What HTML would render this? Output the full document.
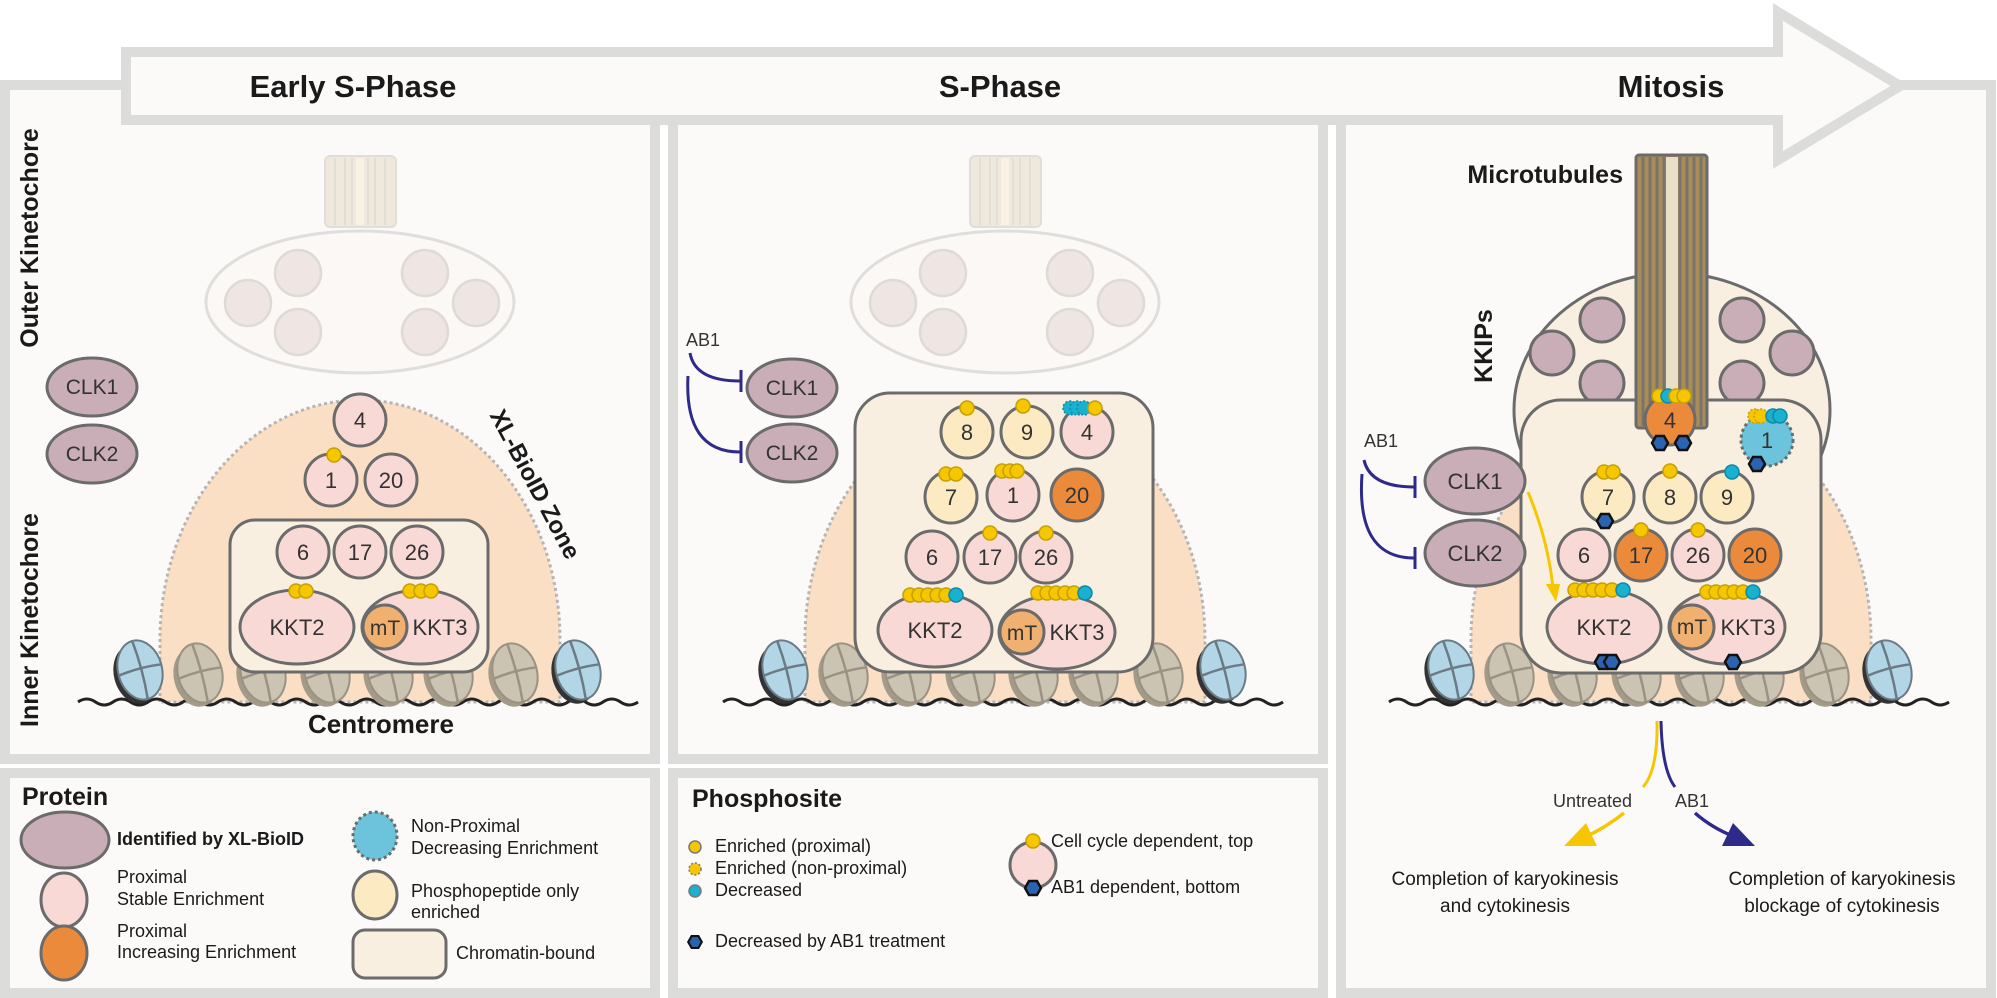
<!DOCTYPE html>
<html><head><meta charset="utf-8"><style>html,body{margin:0;padding:0;background:#fff}svg{display:block}text{font-family:"Liberation Sans",sans-serif}</style></head><body>
<svg width="1997" height="998" viewBox="0 0 1997 998" xmlns="http://www.w3.org/2000/svg">
<defs>
<g id="nuc"><g transform="rotate(-15)"><ellipse cx="-5" cy="3" rx="22" ry="30" fill="#a39a88"/><ellipse cx="0" cy="0" rx="22" ry="30" fill="#cbc4b2" stroke="#9b9283" stroke-width="2"/><path d="M0,-30 Q3,0 0,30 M-22,0 Q0,-3 22,0" stroke="#9b9283" stroke-width="2.5" fill="none"/></g></g>
<g id="nucb"><g transform="rotate(-15)"><ellipse cx="-5" cy="3" rx="22" ry="30" fill="#333"/><ellipse cx="0" cy="0" rx="22" ry="30" fill="#b3d6e6" stroke="#6b7b85" stroke-width="2"/><path d="M0,-30 Q3,0 0,30 M-22,0 Q0,-3 22,0" stroke="#6b7b85" stroke-width="2.5" fill="none"/></g></g>
<polygon id="hex" points="8,0 4,7 -4,7 -8,0 -4,-7 4,-7" fill="#2a64b0" stroke="#111" stroke-width="2.5"/>
<circle id="yd" r="7" fill="#f6c700" stroke="#c6a000" stroke-width="1.5"/>
<circle id="cd" r="7" fill="#1ab0d0" stroke="#0d8aa6" stroke-width="1.5"/>
<g id="faded"><rect x="325" y="156" width="71" height="71" rx="5" fill="#efe8dc" stroke="#e2ddd5" stroke-width="2"/><path d="M335,158V225M345,158V225M352,158V225M368,158V225M375,158V225M385,158V225" stroke="#e2ddd5" stroke-width="2"/><rect x="356" y="158" width="8" height="67" fill="#f8f1e4"/>
<ellipse cx="360" cy="302" rx="154" ry="71" fill="#fbf8f6" stroke="#e0dedb" stroke-width="3"/>
<g fill="#efe5e3" stroke="#dedad6" stroke-width="2.5"><circle cx="298" cy="273" r="23"/><circle cx="425" cy="273" r="23"/><circle cx="248" cy="303" r="23"/><circle cx="476" cy="303" r="23"/><circle cx="298" cy="332" r="23"/><circle cx="425" cy="332" r="23"/></g></g>
<g id="dome"><path d="M160,702 L160,640 A200,240 0 0 1 560,640 L560,702 Z" fill="#fbdfc4" stroke="#b5b5b5" stroke-width="3" stroke-dasharray="3,3"/></g>
<g id="chrom"><path d="M78,702 q8.75,-6 17.5,0 t17.5,0 t17.5,0 t17.5,0 t17.5,0 t17.5,0 t17.5,0 t17.5,0 t17.5,0 t17.5,0 t17.5,0 t17.5,0 t17.5,0 t17.5,0 t17.5,0 t17.5,0 t17.5,0 t17.5,0 t17.5,0 t17.5,0 t17.5,0 t17.5,0 t17.5,0 t17.5,0 t17.5,0 t17.5,0 t17.5,0 t17.5,0 t17.5,0 t17.5,0 t17.5,0 t17.5,0" stroke="#222" stroke-width="3" fill="none"/>
<use href="#nucb" x="140" y="670"/><use href="#nucb" x="578" y="670"/>
<use href="#nuc" x="200" y="673"/><use href="#nuc" x="263" y="673"/><use href="#nuc" x="327" y="673"/><use href="#nuc" x="390" y="673"/><use href="#nuc" x="450" y="673"/><use href="#nuc" x="515" y="673"/></g>
</defs>

<!-- panels -->
<g fill="#fcfaf9" stroke="#dcdcda" stroke-width="10">
<rect x="5" y="85" width="650" height="674"/>
<rect x="673" y="120" width="650" height="639"/>
<rect x="1341" y="85" width="650" height="908"/>
<rect x="5" y="773" width="650" height="220"/>
<rect x="673" y="773" width="650" height="220"/>
</g>
<polygon points="126,52 1778,52 1778,12 1900,86 1778,160 1778,120 126,120" fill="#fcfaf9" stroke="#dcdcda" stroke-width="10" stroke-linejoin="miter"/>
<g font-weight="bold" font-size="31" fill="#1a1a1a" text-anchor="middle">
<text x="353" y="97">Early S-Phase</text><text x="1000" y="97">S-Phase</text><text x="1671" y="97">Mitosis</text></g>

<!-- LEFT PANEL -->
<use href="#faded"/>
<use href="#dome"/>
<use href="#chrom"/>
<text transform="translate(38,238) rotate(-90)" text-anchor="middle" font-size="25" font-weight="bold" fill="#1a1a1a">Outer Kinetochore</text>
<text transform="translate(38,620) rotate(-90)" text-anchor="middle" font-size="25" font-weight="bold" fill="#1a1a1a">Inner Kinetochore</text>
<text transform="translate(528,488) rotate(62)" text-anchor="middle" font-size="24" font-weight="bold" fill="#1a1a1a">XL-BioID Zone</text>
<g stroke="#6b6b6b" stroke-width="3">
<ellipse cx="92" cy="387" rx="45" ry="29" fill="#c9aeb8"/><ellipse cx="92" cy="454" rx="45" ry="29" fill="#c9aeb8"/>
<rect x="230" y="520" width="258" height="152" rx="25" fill="#f8efe0"/>
<g fill="#f9d9d5"><circle cx="360" cy="420" r="26"/><circle cx="331" cy="480" r="26"/><circle cx="391" cy="480" r="26"/>
<circle cx="303" cy="552" r="26"/><circle cx="360" cy="552" r="26"/><circle cx="417" cy="552" r="26"/>
<ellipse cx="297" cy="627" rx="57" ry="37"/><ellipse cx="420" cy="627" rx="58" ry="37"/></g>
<circle cx="385" cy="627" r="22" fill="#f0b070"/></g>
<use href="#yd" x="334" y="455"/><use href="#yd" x="296" y="591"/><use href="#yd" x="306" y="591"/><use href="#yd" x="410" y="591"/><use href="#yd" x="421" y="591"/><use href="#yd" x="431" y="591"/>
<g font-size="21" fill="#333" text-anchor="middle">
<text x="92" y="394">CLK1</text><text x="92" y="461">CLK2</text>
<text x="360" y="428" font-size="22">4</text><text x="331" y="488" font-size="22">1</text><text x="391" y="488" font-size="22">20</text>
<text x="303" y="560" font-size="22">6</text><text x="360" y="560" font-size="22">17</text><text x="417" y="560" font-size="22">26</text>
<text x="297" y="635" font-size="22">KKT2</text><text x="385" y="635">mT</text><text x="440" y="635" font-size="22">KKT3</text></g>
<text x="381" y="733" text-anchor="middle" font-size="26" font-weight="bold" fill="#1a1a1a">Centromere</text>

<!-- MIDDLE PANEL -->
<g transform="translate(645,0)"><use href="#faded"/><use href="#dome"/><use href="#chrom"/></g>
<g stroke="#6b6b6b" stroke-width="3">
<ellipse cx="792" cy="388" rx="45" ry="29" fill="#c9aeb8"/><ellipse cx="792" cy="453" rx="45" ry="29" fill="#c9aeb8"/>
<rect x="855" y="393" width="298" height="279" rx="35" fill="#f8efe0"/>
<g fill="#fbeac2"><circle cx="967" cy="432" r="26"/><circle cx="1027" cy="432" r="26"/><circle cx="951" cy="497" r="26"/></g>
<g fill="#f9d9d5"><circle cx="1087" cy="432" r="26"/><circle cx="1013" cy="495" r="26"/>
<circle cx="932" cy="557" r="26"/><circle cx="990" cy="557" r="26"/><circle cx="1046" cy="557" r="26"/>
<ellipse cx="935" cy="630" rx="57" ry="37"/><ellipse cx="1057" cy="632" rx="58" ry="37"/></g>
<circle cx="1077" cy="495" r="26" fill="#ec8a3c"/>
<circle cx="1022" cy="632" r="22" fill="#f0b070"/></g>
<use href="#yd" x="967" y="408"/><use href="#yd" x="1023" y="406"/>
<g stroke-dasharray="2,2"><use href="#cd" x="1070" y="408"/><use href="#cd" x="1077" y="408"/><use href="#cd" x="1084" y="408"/></g><use href="#yd" x="1095" y="408"/>
<use href="#yd" x="946" y="474"/><use href="#yd" x="956" y="474"/>
<use href="#yd" x="1002" y="471"/><use href="#yd" x="1010" y="471"/><use href="#yd" x="1017" y="471"/>
<use href="#yd" x="990" y="533"/><use href="#yd" x="1046" y="533"/>
<use href="#yd" x="910" y="595"/><use href="#yd" x="919" y="595"/><use href="#yd" x="928" y="595"/><use href="#yd" x="937" y="595"/><use href="#yd" x="946" y="595"/><use href="#cd" x="956" y="595"/>
<use href="#yd" x="1038" y="593"/><use href="#yd" x="1047" y="593"/><use href="#yd" x="1056" y="593"/><use href="#yd" x="1065" y="593"/><use href="#yd" x="1074" y="593"/><use href="#cd" x="1085" y="593"/>
<g font-size="21" fill="#333" text-anchor="middle">
<text x="792" y="395">CLK1</text><text x="792" y="460">CLK2</text>
<text x="967" y="440" font-size="22">8</text><text x="1027" y="440" font-size="22">9</text><text x="1087" y="440" font-size="22">4</text>
<text x="951" y="505" font-size="22">7</text><text x="1013" y="503" font-size="22">1</text><text x="1077" y="503" font-size="22">20</text>
<text x="932" y="565" font-size="22">6</text><text x="990" y="565" font-size="22">17</text><text x="1046" y="565" font-size="22">26</text>
<text x="935" y="638" font-size="22">KKT2</text><text x="1022" y="640">mT</text><text x="1077" y="640" font-size="22">KKT3</text></g>
<text x="686" y="346" font-size="18" fill="#333">AB1</text>
<g stroke="#2e2a8a" stroke-width="3" fill="none">
<path d="M690,353 Q695,381 740,381"/><path d="M741,370V392"/>
<path d="M688,376 Q684,452 740,452"/><path d="M741,441V463"/></g>

<!-- RIGHT PANEL -->
<g transform="translate(1311,0)"><use href="#dome"/><use href="#chrom"/></g>
<ellipse cx="1672" cy="410" rx="158" ry="137" fill="#f8efe0" stroke="#6b6b6b" stroke-width="3"/>
<g fill="#c9aeb8" stroke="#6b6b6b" stroke-width="3"><circle cx="1552" cy="353" r="22"/><circle cx="1602" cy="320" r="22"/><circle cx="1602" cy="383" r="22"/><circle cx="1792" cy="353" r="22"/><circle cx="1742" cy="320" r="22"/><circle cx="1742" cy="383" r="22"/></g>
<rect x="1521" y="400" width="300" height="273" rx="40" fill="#f8efe0" stroke="#6b6b6b" stroke-width="3"/>
<rect x="1636" y="155" width="71" height="273" rx="3" fill="#a88c5a" stroke="#6b6b6b" stroke-width="3"/>
<path d="M1643,157V426M1650,157V426M1657,157V426M1664,157V426M1680,157V426M1687,157V426M1694,157V426M1701,157V426" stroke="#7a7468" stroke-width="3"/>
<rect x="1666" y="157" width="12" height="269" fill="#e8dfc4"/>
<text x="1623" y="183" text-anchor="end" font-size="25" font-weight="bold" fill="#1a1a1a">Microtubules</text>
<text transform="translate(1492,346) rotate(-90)" text-anchor="middle" font-size="25" font-weight="bold" fill="#1a1a1a">KKIPs</text>
<g stroke="#6b6b6b" stroke-width="3">
<ellipse cx="1475" cy="481" rx="50" ry="33" fill="#c9aeb8"/><ellipse cx="1475" cy="553" rx="50" ry="33" fill="#c9aeb8"/>
<circle cx="1670" cy="420" r="25" fill="#ec8a3c"/>
<circle cx="1767" cy="440" r="26" fill="#6cc4dc" stroke-dasharray="3,3"/>
<g fill="#fbeac2"><circle cx="1608" cy="497" r="26"/><circle cx="1670" cy="497" r="26"/><circle cx="1727" cy="497" r="26"/></g>
<g fill="#f9d9d5"><circle cx="1584" cy="555" r="26"/><circle cx="1698" cy="555" r="26"/>
<ellipse cx="1604" cy="627" rx="57" ry="37"/><ellipse cx="1727" cy="627" rx="58" ry="37"/></g>
<circle cx="1641" cy="555" r="26" fill="#ec8a3c"/><circle cx="1755" cy="555" r="26" fill="#ec8a3c"/>
<circle cx="1692" cy="627" r="22" fill="#f0b070"/></g>
<use href="#yd" x="1659" y="396"/><use href="#cd" x="1668" y="396"/><use href="#yd" x="1676" y="396"/><use href="#yd" x="1684" y="396"/>
<use href="#hex" x="1660" y="443"/><use href="#hex" x="1683" y="443"/>
<g stroke-dasharray="2,2"><use href="#yd" x="1755" y="416"/><use href="#yd" x="1761" y="416"/></g><use href="#cd" x="1773" y="416"/><use href="#cd" x="1780" y="416"/>
<use href="#hex" x="1757" y="464"/>
<use href="#yd" x="1604" y="472"/><use href="#yd" x="1613" y="472"/><use href="#yd" x="1670" y="471"/><use href="#cd" x="1732" y="472"/>
<use href="#hex" x="1605" y="521"/>
<use href="#yd" x="1641" y="530"/><use href="#yd" x="1698" y="530"/>
<use href="#yd" x="1575" y="590"/><use href="#yd" x="1584" y="590"/><use href="#yd" x="1593" y="590"/><use href="#yd" x="1602" y="590"/><use href="#yd" x="1612" y="590"/><use href="#cd" x="1623" y="590"/>
<use href="#yd" x="1707" y="592"/><use href="#yd" x="1716" y="592"/><use href="#yd" x="1725" y="592"/><use href="#yd" x="1734" y="592"/><use href="#yd" x="1743" y="592"/><use href="#cd" x="1753" y="592"/>
<use href="#hex" x="1603" y="662"/><use href="#hex" x="1612" y="662"/><use href="#hex" x="1733" y="662"/>
<g font-size="22" fill="#333" text-anchor="middle">
<text x="1475" y="489">CLK1</text><text x="1475" y="561">CLK2</text>
<text x="1670" y="428">4</text><text x="1767" y="448">1</text>
<text x="1608" y="505">7</text><text x="1670" y="505">8</text><text x="1727" y="505">9</text>
<text x="1584" y="563">6</text><text x="1641" y="563">17</text><text x="1698" y="563">26</text><text x="1755" y="563">20</text>
<text x="1604" y="635">KKT2</text><text x="1692" y="634" font-size="21">mT</text><text x="1748" y="635">KKT3</text></g>
<text x="1364" y="447" font-size="18" fill="#333">AB1</text>
<g stroke="#2e2a8a" stroke-width="3" fill="none">
<path d="M1364,460 Q1370,487 1414,487"/><path d="M1415,476V498"/>
<path d="M1362,474 Q1356,558 1414,558"/><path d="M1415,547V569"/></g>
<path d="M1528,492 Q1548,540 1553,588" stroke="#f6c700" stroke-width="3" fill="none"/>
<polygon points="1556,602 1546,584 1560,584" fill="#f6c700"/>
<!-- outcome arrows -->
<path d="M1657,721 Q1658,770 1643,787" stroke="#f6c700" stroke-width="3" fill="none"/>
<path d="M1661,721 Q1662,770 1675,787" stroke="#2e2a8a" stroke-width="3" fill="none"/>
<path d="M1624,813 Q1605,828 1585,837" stroke="#f6c700" stroke-width="3.5" fill="none"/>
<polygon points="1564,846 1597,846 1586,823" fill="#f6c700"/>
<path d="M1695,813 Q1712,828 1735,837" stroke="#2e2a8a" stroke-width="3.5" fill="none"/>
<polygon points="1755,846 1722,846 1733,823" fill="#2e2a8a"/>
<g font-size="18" fill="#333"><text x="1553" y="807">Untreated</text><text x="1675" y="807">AB1</text></g>
<g font-size="19" fill="#1a1a1a" text-anchor="middle">
<text x="1505" y="885">Completion of karyokinesis</text><text x="1505" y="912">and cytokinesis</text>
<text x="1842" y="885">Completion of karyokinesis</text><text x="1842" y="912">blockage of cytokinesis</text></g>

<!-- PROTEIN LEGEND -->
<text x="22" y="805" font-size="25" font-weight="bold" fill="#1a1a1a">Protein</text>
<g stroke="#6b6b6b" stroke-width="3">
<ellipse cx="65" cy="840" rx="44" ry="28" fill="#c9aeb8"/>
<ellipse cx="64" cy="900" rx="23" ry="27" fill="#f9d9d5"/>
<ellipse cx="64" cy="953" rx="23" ry="27" fill="#ec8a3c"/>
<ellipse cx="375" cy="836" rx="22" ry="24" fill="#6cc4dc" stroke-dasharray="3,3"/>
<ellipse cx="375" cy="895" rx="22" ry="24" fill="#fbeac2"/>
<rect x="353" y="930" width="93" height="48" rx="12" fill="#f8efe0"/></g>
<g font-size="18" fill="#1a1a1a">
<text x="117" y="845" font-weight="bold">Identified by XL-BioID</text>
<text x="117" y="883">Proximal</text><text x="117" y="905">Stable Enrichment</text>
<text x="117" y="937">Proximal</text><text x="117" y="958">Increasing Enrichment</text>
<text x="411" y="832">Non-Proximal</text><text x="411" y="854">Decreasing Enrichment</text>
<text x="411" y="897">Phosphopeptide only</text><text x="411" y="918">enriched</text>
<text x="456" y="959">Chromatin-bound</text></g>

<!-- PHOSPHOSITE LEGEND -->
<text x="692" y="807" font-size="25" font-weight="bold" fill="#1a1a1a">Phosphosite</text>
<circle cx="695" cy="847" r="6" fill="#f6c700" stroke="#777" stroke-width="1.5"/>
<circle cx="695" cy="869" r="6" fill="#f6c700" stroke="#777" stroke-width="1.5" stroke-dasharray="2,2"/>
<circle cx="695" cy="891" r="6" fill="#1ab0d0" stroke="#777" stroke-width="1.5"/>
<use href="#hex" x="695" y="942" transform="translate(695,942) scale(0.85) translate(-695,-942)"/>
<g font-size="18" fill="#1a1a1a">
<text x="715" y="852">Enriched (proximal)</text><text x="715" y="874">Enriched (non-proximal)</text><text x="715" y="896">Decreased</text>
<text x="715" y="947">Decreased by AB1 treatment</text>
<text x="1051" y="847">Cell cycle dependent, top</text><text x="1051" y="893">AB1 dependent, bottom</text></g>
<circle cx="1033" cy="865" r="23" fill="#f9d9d5" stroke="#6b6b6b" stroke-width="3"/>
<use href="#yd" x="1033" y="841"/><use href="#hex" x="1033" y="888"/>
</svg>
</body></html>
